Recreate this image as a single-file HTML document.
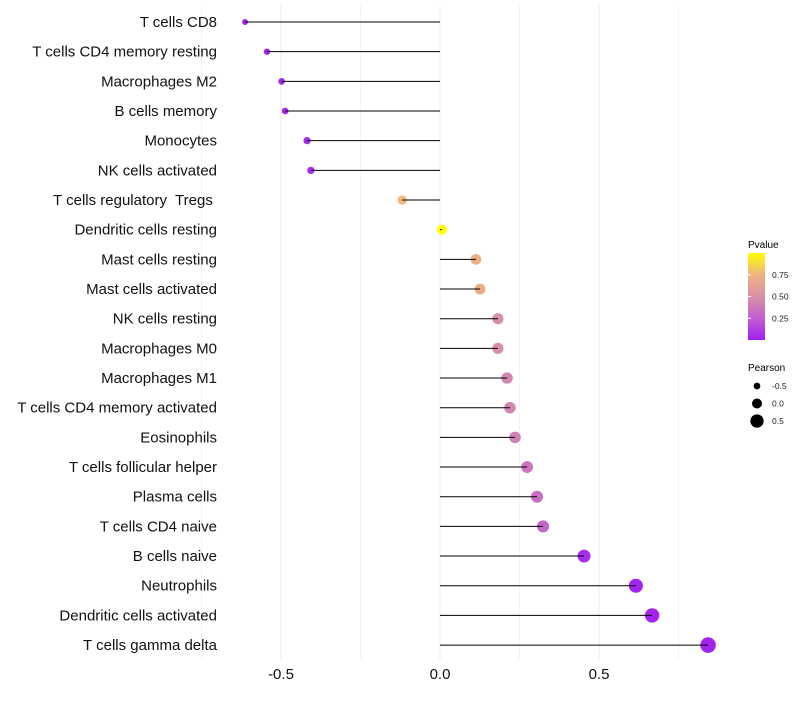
<!DOCTYPE html>
<html><head><meta charset="utf-8"><style>
body{margin:0;background:#fff;width:800px;height:700px;overflow:hidden}
svg{font-family:"Liberation Sans",Arial,sans-serif}
text{white-space:pre}
</style></head><body>
<svg id="chart" width="800" height="700">
<defs><linearGradient id="pg" x1="0" y1="1" x2="0" y2="0">
<stop offset="0" stop-color="#A020F0"/><stop offset="0.25" stop-color="#C060D0"/><stop offset="0.5" stop-color="#D890A8"/><stop offset="0.75" stop-color="#EDB382"/><stop offset="1" stop-color="#FFFF00"/></linearGradient></defs>
<g id="grid"></g>
<g id="marks"></g>
<g id="ylabels"></g>
<g id="xlabels"></g>
<g>
<text x="748" y="248" font-size="10">Pvalue</text>
<rect x="748" y="253" width="17" height="87" fill="url(#pg)"/>
<g id="cbticks"></g>
</g>
<g>
<text x="748" y="371" font-size="10">Pearson</text>
<g id="sizeleg"></g>
</g>
</svg>
<script>
const cellTypes=["T cells CD8","T cells CD4 memory resting","Macrophages M2","B cells memory","Monocytes","NK cells activated","T cells regulatory  Tregs ","Dendritic cells resting","Mast cells resting","Mast cells activated","NK cells resting","Macrophages M0","Macrophages M1","T cells CD4 memory activated","Eosinophils","T cells follicular helper","Plasma cells","T cells CD4 naive","B cells naive","Neutrophils","Dendritic cells activated","T cells gamma delta"];
const pearson=[-0.613,-0.544,-0.498,-0.487,-0.418,-0.406,-0.119,0.006,0.113,0.126,0.182,0.182,0.211,0.22,0.236,0.274,0.305,0.324,0.453,0.616,0.667,0.843];
const pvalues=[0.02,0.03,0.03,0.03,0.04,0.04,0.76,1.0,0.72,0.7,0.5,0.5,0.45,0.44,0.42,0.36,0.32,0.28,0.05,0.02,0.02,0.01];
const xTicks=[-0.5,0.0,0.5];
const xTickLabels=["-0.5","0.0","0.5"];
const cbTicks=[0.25,0.5,0.75];
const sizeLegVals=[-0.5,0.0,0.5];

const NS="http://www.w3.org/2000/svg";
const x=v=>440+v*318;
const y=i=>22+i*29.67;
const r=v=>Math.max(1.8,5+3.3*v);
const stops=[[0,[160,32,240]],[0.25,[192,96,208]],[0.5,[216,144,168]],[0.75,[240,180,128]],[1,[255,255,0]]];
function col(p){for(let k=1;k<stops.length;k++){if(p<=stops[k][0]){const a=stops[k-1],b=stops[k],t=(p-a[0])/(b[0]-a[0]);return "rgb("+a[1].map((c,j)=>Math.round(c+(b[1][j]-c)*t)).join(",")+")";}}return "rgb(255,255,0)";}
function mk(tag,at,parent){const e=document.createElementNS(NS,tag);for(const k in at)e.setAttribute(k,at[k]);document.getElementById(parent).appendChild(e);return e;}
const grid=[-0.75,-0.5,-0.25,0,0.25,0.5,0.75];
grid.forEach(g=>{const l=mk("line",{x1:x(g),x2:x(g),y1:5,y2:660,stroke:"#ebebeb","stroke-width":g%0.5===0?1:0.6},"grid");

});
cellTypes.forEach((c,i)=>{
const d=mk("circle",{cx:x(pearson[i]),cy:y(i),r:r(pearson[i]),fill:col(pvalues[i])},"marks");


const l=mk("line",{x1:x(0),x2:x(pearson[i]),y1:y(i),y2:y(i),stroke:"#000","stroke-width":1},"marks");


const t=mk("text",{x:217,y:y(i)+5,"text-anchor":"end","font-size":15,fill:"#111"},"ylabels");
t.textContent=c;


});
xTicks.forEach((v,i)=>{const t=mk("text",{x:x(v),y:679,"text-anchor":"middle","font-size":15,fill:"#111"},"xlabels");
t.textContent=xTickLabels[i];

});
cbTicks.forEach(v=>{const yy=340-v*87;
const l=mk("line",{x1:748,x2:751,y1:yy,y2:yy,stroke:"#fff"},"cbticks");


const t=mk("text",{x:772,y:yy+3,"font-size":8.5,fill:"#222"},"cbticks");
t.textContent=v.toFixed(2);

});
sizeLegVals.forEach((v,i)=>{const yy=386+i*17.5;
const c=mk("circle",{cx:757,cy:yy,r:r(v),fill:"#000"},"sizeleg");


const t=mk("text",{x:772,y:yy+3,"font-size":8.5,fill:"#222"},"sizeleg");
t.textContent=v.toFixed(1);

});
</script>
</body></html>
